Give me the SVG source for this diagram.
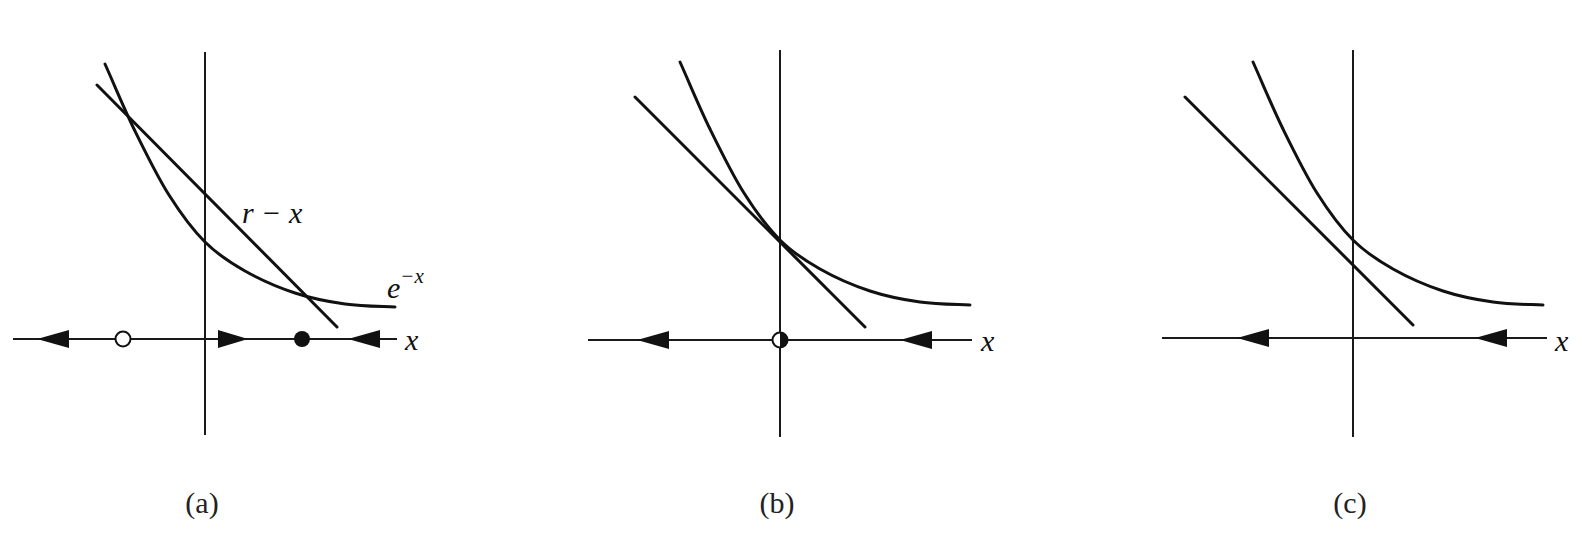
<svg xmlns="http://www.w3.org/2000/svg" width="1582" height="542" viewBox="0 0 1582 542">
<style>
.axis{stroke:#1a1a1a;stroke-width:2;fill:none}
.curve{stroke:#111;stroke-width:3;fill:none;stroke-linecap:round}
.head{fill:#111}
.lbl{font-family:"Liberation Serif",serif;font-style:italic;fill:#111}
.cap{font-family:"Liberation Serif",serif;font-size:30px;fill:#222;text-anchor:middle}
</style>
<defs>
<path id="expc" class="curve" d="M-100,-178 C-90,-155.7 -80.7,-132.8 -70,-111 C-59.3,-89.2 -47.7,-65.5 -36,-47 C-24.3,-28.5 -12.67,-12.67 0,0 C12.67,12.67 25,20.5 40,29 C55,37.5 73.3,45.5 90,51 C106.7,56.5 123.3,59.7 140,62 C156.7,64.3 173.3,64.3 190,65"/>
<path id="hl" class="head" d="M0,0 L32,-9 L32,9 Z"/>
<path id="hr" class="head" d="M0,0 L-30,-9 L-30,9 Z"/>
</defs>
<rect width="1582" height="542" fill="#fff"/>

<g id="panel-a">
<line class="axis" x1="205" y1="52" x2="205" y2="435"/>
<line class="axis" x1="13" y1="339" x2="397" y2="339"/>
<use href="#expc" transform="translate(205,242)"/>
<line class="curve" x1="97" y1="85" x2="337" y2="327"/>
<use href="#hl" transform="translate(37,339)"/>
<use href="#hr" transform="translate(248,339)"/>
<use href="#hl" transform="translate(348,339)"/>
<circle cx="123" cy="339" r="7.5" fill="#fff" stroke="#111" stroke-width="2"/>
<circle cx="302" cy="339" r="8" fill="#111"/>
<text class="lbl" x="242" y="223" font-size="30">r − x</text>
<text class="lbl" x="387" y="298" font-size="30">e<tspan font-size="21" dy="-15">−x</tspan></text>
<text class="lbl" x="405" y="350" font-size="30">x</text>
<text class="cap" x="202" y="513">(a)</text>
</g>

<g id="panel-b">
<line class="axis" x1="780" y1="50" x2="780" y2="437"/>
<line class="axis" x1="588" y1="340" x2="972" y2="340"/>
<use href="#expc" transform="translate(780,240)"/>
<line class="curve" x1="635" y1="97" x2="865" y2="327"/>
<use href="#hl" transform="translate(637,340)"/>
<use href="#hl" transform="translate(900,340)"/>
<circle cx="780" cy="340" r="7.5" fill="#fff" stroke="#111" stroke-width="2"/>
<path d="M780,332.5 A7.5,7.5 0 0 1 780,347.5 Z" fill="#111"/>
<text class="lbl" x="981" y="351" font-size="30">x</text>
<text class="cap" x="777" y="513">(b)</text>
</g>

<g id="panel-c">
<line class="axis" x1="1353" y1="50" x2="1353" y2="437"/>
<line class="axis" x1="1162" y1="338" x2="1547" y2="338"/>
<use href="#expc" transform="translate(1353,240)"/>
<line class="curve" x1="1185" y1="97" x2="1413" y2="325"/>
<use href="#hl" transform="translate(1237,338)"/>
<use href="#hl" transform="translate(1475,338)"/>
<text class="lbl" x="1555" y="351" font-size="30">x</text>
<text class="cap" x="1350" y="513">(c)</text>
</g>
</svg>
